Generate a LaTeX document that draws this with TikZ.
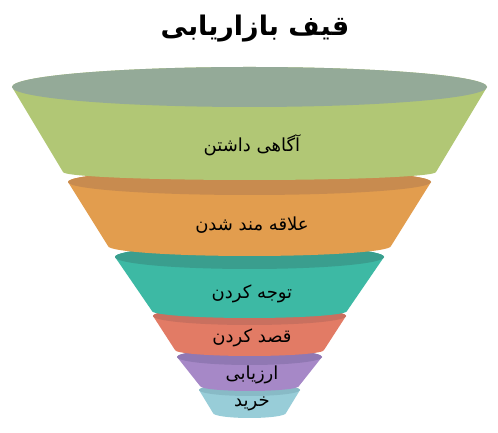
\documentclass[tikz,border=0pt]{standalone}
\usepackage{fontspec}
\TeXXeTstate=1
\newfontfamily\arabicfont[Script=Arabic]{DejaVu Sans}
\definecolor{gBody}{HTML}{B1C775}
\definecolor{gTop}{HTML}{94AA98}
\definecolor{oBody}{HTML}{E29D4E}
\definecolor{oTop}{HTML}{C88B4F}
\definecolor{tBody}{HTML}{3DB9A4}
\definecolor{tTop}{HTML}{3A9E8E}
\definecolor{rBody}{HTML}{E27B65}
\definecolor{rTop}{HTML}{C9705F}
\definecolor{pBody}{HTML}{A688C7}
\definecolor{pTop}{HTML}{9078B3}
\definecolor{bBody}{HTML}{98CDD8}
\definecolor{bTop}{HTML}{88BAC6}
% #1 xl, #2 yt (image), #3 ryt, #4 xbl, #5 yb (image), #6 ryb, #7 body, #8 top
\newcommand\funnellayer[8]{%
  \pgfmathsetmacro\Yt{433-#2}%
  \pgfmathsetmacro\Yb{433-#5}%
  \pgfmathsetmacro\rt{249.5-#1}%
  \pgfmathsetmacro\rb{249.5-#4}%
  \pgfmathsetmacro\xr{499-#1}%
  \fill[#7] (#1,\Yt) -- (#4,\Yb)
     arc[start angle=180, end angle=360, x radius=\rb pt, y radius=#6pt]
     -- (\xr,\Yt)
     arc[start angle=0, end angle=180, x radius=\rt pt, y radius=#3pt] -- cycle;
  \fill[#8] (249.5,\Yt) ellipse[x radius=\rt pt, y radius=#3pt];
}
\tikzset{
  lbl/.style={font=\arabicfont\fontsize{18}{21}\selectfont, text=black, inner sep=0pt},
  ttl/.style={font=\arabicfont\bfseries\fontsize{27}{32}\selectfont, text=black, inner sep=0pt}
}
\begin{document}
\begin{tikzpicture}[x=1pt,y=1pt]
\useasboundingbox (0,0) rectangle (498,433);
\fill[white] (0,0) rectangle (498,433);
\funnellayer{199}{390}{6}{213}{413}{5}{bBody}{bTop}
\funnellayer{177}{357}{8}{200}{386}{5}{pBody}{pTop}
\funnellayer{153}{316}{9}{175}{350}{6}{rBody}{rTop}
\funnellayer{115}{257}{12}{152}{311}{7}{tBody}{tTop}
\funnellayer{68}{182}{13}{108}{246}{10}{oBody}{oTop}
\funnellayer{12}{87}{20}{63}{172}{8}{gBody}{gTop}
\node[ttl] (title) at (255,433-29) {\beginR قیف بازاریابی\endR};
\node[lbl] (l1) at (252,433-145) {\beginR آگاهی داشتن\endR};
\node[lbl] (l2) at (252,433-225) {\beginR علاقه مند شدن\endR};
\node[lbl] (l3) at (252,433-294) {\beginR توجه کردن\endR};
\node[lbl] (l4) at (252,433-338) {\beginR قصد کردن\endR};
\node[lbl] (l5) at (252,433-375) {\beginR ارزیابی\endR};
\node[lbl] (l6) at (252,433-404) {\beginR خرید\endR};
\end{tikzpicture}
\end{document}
